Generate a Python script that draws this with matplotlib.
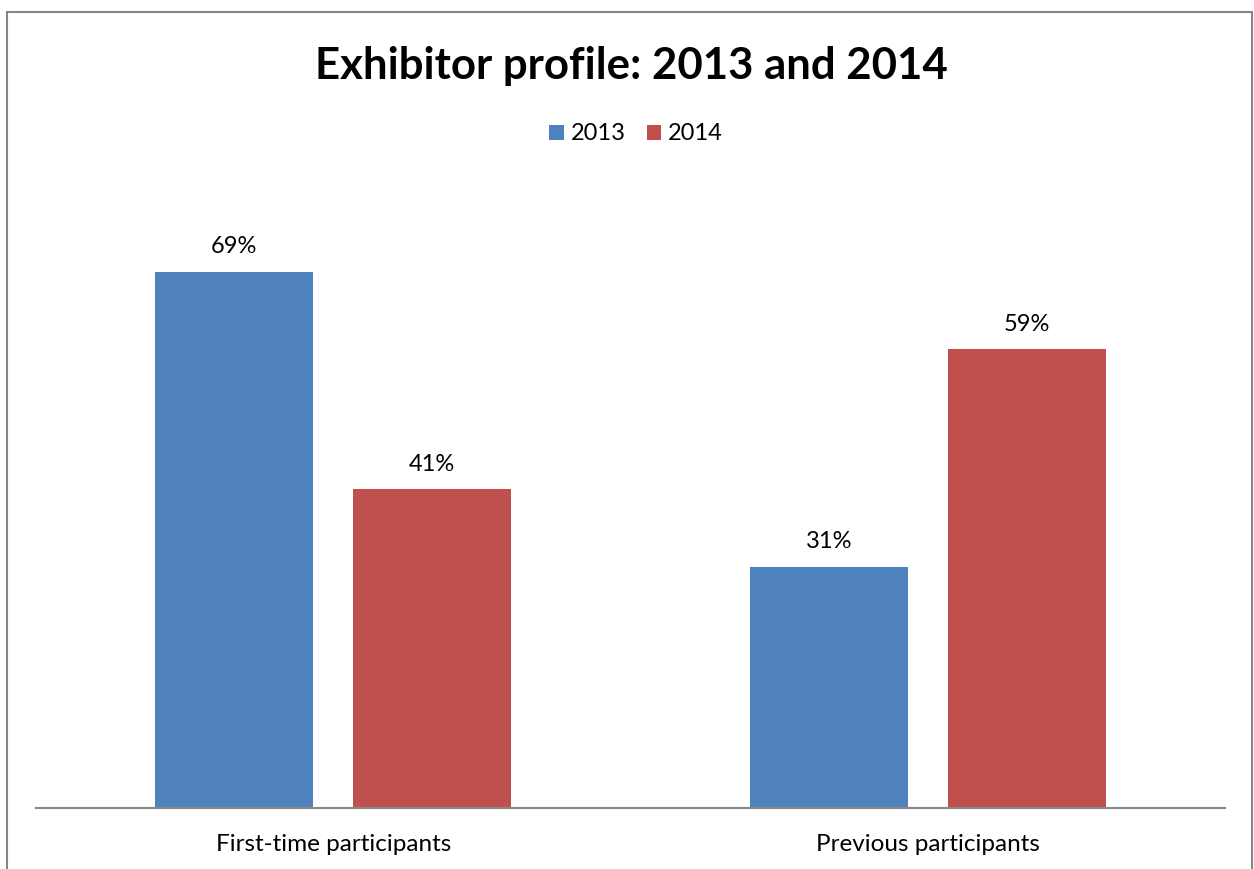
import matplotlib
matplotlib.use("Agg")
import matplotlib.pyplot as plt
from matplotlib.patches import Rectangle
import numpy as np

categories = ["First-time participants", "Previous participants"]
series_names = ["2013", "2014"]
values_2013 = [69, 31]
values_2014 = [41, 59]
colors = ["#4F81BD", "#C0504D"]

plt.rcParams['font.family'] = ['Lato', 'DejaVu Sans']

W, H = 1254, 869
fig = plt.figure(figsize=(W/100, H/100), dpi=100)

# outer chart border
fig.patches.append(Rectangle((6.5/W, -0.05), (1251.5-6.5)/W, 1.05 - 11.5/H,
                             transform=fig.transFigure, fill=False,
                             edgecolor="#868686", linewidth=1.5))

ax = fig.add_axes([36/W, 61/H, (1225-36)/W, 622/H])
x = np.arange(len(categories))
bw = 0.266
off = 0.1665
b1 = ax.bar(x - off, values_2013, bw, color=colors[0], label=series_names[0])
b2 = ax.bar(x + off, values_2014, bw, color=colors[1], label=series_names[1])

for bars in (b1, b2):
    for r in bars:
        ax.annotate(f"{r.get_height():.0f}%", (r.get_x() + r.get_width()/2, r.get_height()),
                    xytext=(0, 18), textcoords="offset points", ha="center", va="center",
                    fontsize=17, color="black")

ax.set_xlim(-0.5, 1.5)
ax.set_ylim(0, 80)
ax.set_yticks([])
ax.set_xticks(x)
ax.set_xticklabels(categories, fontsize=17.5)
ax.tick_params(axis='x', length=0, pad=19)
for s in ("top", "right", "left"):
    ax.spines[s].set_visible(False)
ax.spines["bottom"].set_color("#888888")
ax.spines["bottom"].set_linewidth(1.5)

fig.text(631/W, 1 - 66/H, "Exhibitor profile: 2013 and 2014", ha="center", va="center",
         fontsize=31.5, fontweight="bold")

leg = fig.legend(handles=[b1, b2], labels=series_names, loc="center",
                 bbox_to_anchor=(636/W, 1 - 134/H), ncol=2, frameon=False,
                 fontsize=17, handlelength=0.6, handleheight=0.6,
                 handletextpad=0.3, columnspacing=0.88)

fig.savefig("out.png", dpi=100)
